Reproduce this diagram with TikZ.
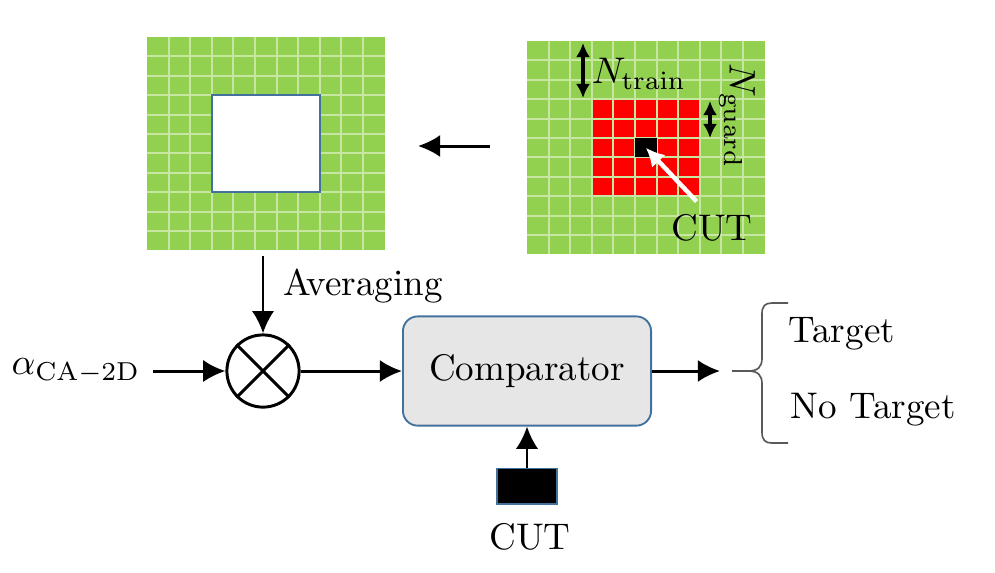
\documentclass[tikz,border=0pt]{standalone}
\usetikzlibrary{arrows.meta,positioning,calc}

\definecolor{cellgreen}{HTML}{92D050}
\definecolor{cellline}{HTML}{C6E6A2}
\definecolor{boxblue}{HTML}{41719C}
\definecolor{boxgray}{HTML}{E7E6E6}

\tikzset{
  sig/.style={line width=0.8pt,-{Latex[length=6pt,width=6pt]}},
  dbl/.style={line width=0.9pt,{Latex[length=3.8pt,width=3.8pt]}-{Latex[length=3.8pt,width=3.8pt]}},
  gridline/.style={cellline,line width=0.5pt},
  blockbox/.style={draw=boxblue,fill=boxgray,line width=0.5pt,rounded corners=4pt,
                   minimum width=67pt,minimum height=29.5pt},
}

\begin{document}
\begin{tikzpicture}[x=0.27pt,y=-0.27pt]
		\useasboundingbox (0,0) rectangle (995,572);
		% averaged window
		\begin{scope}[shift={(147,37)}]
			\fill[cellgreen] (0,0) rectangle (237.6,213.4);
			\foreach \i in {1,...,10}{
				\draw[gridline] (\i*21.6,0) -- (\i*21.6,213.4);
				\draw[gridline] (0,\i*19.4) -- (237.6,\i*19.4);
			}
			\filldraw[fill=white,draw=boxblue,line width=0.6pt] (64.8,58.2) rectangle (172.8,155.2);
			\coordinate (avgtop) at (116,219);
		\end{scope}
		% reference window
		\begin{scope}[shift={(527,41)}]
			\fill[cellgreen] (0,0) rectangle (237.6,213.4);
			\fill[red] (64.8,58.2) rectangle (172.8,155.2);
			\foreach \i in {1,...,10}{
				\draw[gridline] (\i*21.6,0) -- (\i*21.6,213.4);
				\draw[gridline] (0,\i*19.4) -- (237.6,\i*19.4);
			}
			\fill[black] (108,97) rectangle (129.6,116.4);
			\coordinate (cutcell) at (118.8,106.7);
			\coordinate (trtop) at (56,2);
			\coordinate (trbot) at (56,57);
			\coordinate (gdtop) at (183,60);
			\coordinate (gdbot) at (183,97);
		\end{scope}
		\draw[dbl] (trtop) -- (trbot);
		\draw[dbl] (gdtop) -- (gdbot);
		\node (ntrain) at (639,74) {$N_{\mathrm{train}}$};
		\node[rotate=-90] (nguard) at (737,116) {$N_{\mathrm{guard}}$};
		\node (cutlbl) at (712,228) {CUT};
		\draw[white,line width=1.2pt,-{Latex[length=5pt,width=5pt]}] (cutlbl.120) -- (cutcell);
		%%
		\coordinate (slidefrom) at (490,146);
		\coordinate (slideto) at (418,146);
		\draw[sig] (slidefrom) -- (slideto);
		%%
		\node[circle,draw,line width=0.8pt,minimum size=19.5pt,inner sep=0pt] (mix) at (263,371) {};
		\draw[line width=0.8pt] (mix.45) -- (mix.225) (mix.135) -- (mix.315);
		\node (alpha) at (76,371) {$\alpha_{\mathrm{CA-2D}}$};
		\node[anchor=west] (avg) at (270,286) {Averaging};
		\node[blockbox] (comp) at (527,371) {Comparator};
		\node[fill=black,draw=boxblue,line width=0.5pt,minimum width=16pt,minimum height=9.5pt,inner sep=0pt] (cutbox) at (527,486) {};
		\node (cutin) at (530,537) {CUT};
		\coordinate (outend) at (720,371);
		\draw[sig] (alpha.east) -- (mix.west);
		\draw[sig] (avgtop) -- (mix.north);
		\draw[sig] (mix.east) -- (comp.west);
		\draw[sig] (comp.east) -- (outend);
		\draw[sig,line width=0.6pt] (cutbox.north) -- (comp.south);
		%% decision brace
		\draw[black!65,line width=0.45pt] (788,303) -- (772,303)
			.. controls (765,303) and (762,306) .. (762,314) -- (762,358)
			.. controls (762,367) and (758,371) .. (748,371) -- (732,371)
			(748,371) .. controls (758,371) and (762,375) .. (762,384) -- (762,432)
			.. controls (762,440) and (765,443) .. (772,443) -- (788,443);
		\node[anchor=west,inner sep=0pt] (tgt) at (788,334) {Target};
		\node[anchor=west,inner sep=0pt] (notgt) at (790,410) {No Target};
	\end{tikzpicture}
\end{document}
